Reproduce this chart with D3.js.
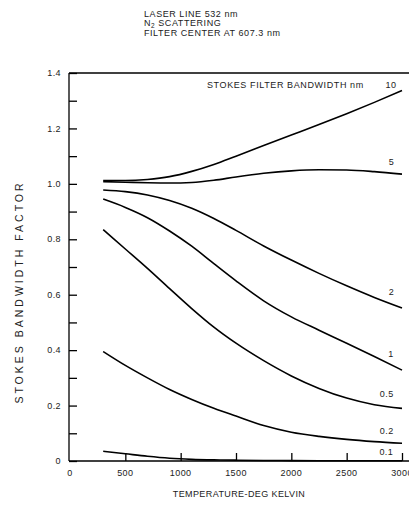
<!DOCTYPE html>
<html><head><meta charset="utf-8">
<script src="https://cdn.jsdelivr.net/npm/d3@7"></script>
<style>
body{margin:0;background:#fff;}
svg{display:block;font-family:"Liberation Sans",Arial,sans-serif;}
</style></head>
<body>
<svg id="c" width="409" height="507"></svg>
<script>
const temps = [300,500,700,900,1100,1300,1500,1750,2000,2250,2500,2750,3000];
const bandwidths = ["10","5","2","1","0.5","0.2","0.1"];
const s10  = [1.012,1.012,1.016,1.026,1.045,1.07,1.1,1.138,1.176,1.214,1.253,1.294,1.337];
const s5   = [1.008,1.006,1.004,1.003,1.005,1.013,1.025,1.038,1.047,1.051,1.05,1.044,1.035];
const s2   = [0.978,0.972,0.96,0.94,0.912,0.875,0.832,0.776,0.725,0.677,0.632,0.59,0.552];
const s1   = [0.945,0.915,0.878,0.83,0.775,0.712,0.65,0.578,0.52,0.472,0.425,0.377,0.328];
const s05  = [0.835,0.765,0.695,0.622,0.55,0.483,0.425,0.362,0.307,0.262,0.227,0.203,0.19];
const s02  = [0.395,0.345,0.3,0.258,0.222,0.19,0.162,0.128,0.104,0.089,0.078,0.07,0.064];
const s01  = [0.035,0.026,0.017,0.01,0.006,0.004,0.003,0.002,0.0015,0.001,0.001,0.001,0.001];
const seriesValues = [s10,s5,s2,s1,s05,s02,s01];
const labelT = [2900,2905,2905,2900,2862,2862,2858];
const labelV = [1.357,1.08,0.61,0.386,0.242,0.109,0.034];
const xTicks = [0,500,1000,1500,2000,2500,3000];
const yTickLabels = ["0","0.2","0.4","0.6","0.8","1.0","1.2","1.4"];
const yMinor = [0,0.1,0.2,0.3,0.4,0.5,0.6,0.7,0.8,0.9,1.0,1.1,1.2,1.3,1.4];
const titleLines = ["LASER LINE 532 nm","N|2| SCATTERING","FILTER CENTER AT 607.3 nm"];

const svg = d3.select("#c");
const x = d3.scaleLinear().domain([0,3000]).range([70,402]);
const y = d3.scaleLinear().domain([0,1.4]).range([461,73]);

// frame
svg.append("line").attr("x1",69).attr("x2",409).attr("y1",73).attr("y2",73).attr("stroke","#000").attr("stroke-width",1.3);
svg.append("line").attr("x1",69).attr("x2",409).attr("y1",461).attr("y2",461).attr("stroke","#000").attr("stroke-width",1.6);
svg.append("line").attr("x1",69).attr("x2",69).attr("y1",73).attr("y2",461).attr("stroke","#000").attr("stroke-width",1.3);

// y axis
const yAx = d3.axisRight(y).tickValues(yMinor).tickSize(8).tickFormat("");
const gy = svg.append("g").attr("transform","translate(69,0)").call(yAx);
gy.select(".domain").remove();
gy.selectAll(".tick line").attr("stroke","#000").attr("stroke-width",1.3);
svg.append("g").selectAll("text").data(yTickLabels).join("text")
  .attr("x",61).attr("y",d=>y(+d)).attr("dy","0.35em").attr("text-anchor","end")
  .attr("font-size",9).attr("letter-spacing",0.4).attr("fill","#222").text(d=>d);

// x axis
const xAx = d3.axisTop(x).tickValues(xTicks.slice(1)).tickSize(8).tickFormat("");
const gx = svg.append("g").attr("transform","translate(0,461)").call(xAx);
gx.select(".domain").remove();
gx.selectAll(".tick line").attr("stroke","#000").attr("stroke-width",1.3);
svg.append("g").selectAll("text").data(xTicks).join("text")
  .attr("x",d=>x(d)).attr("y",475.5).attr("text-anchor","middle")
  .attr("font-size",9).attr("letter-spacing",0.4).attr("fill","#222").text(d=>d);

// curves
const line = d3.line().x((d,i)=>x(temps[i])).y(d=>y(d)).curve(d3.curveMonotoneX);
svg.append("g").selectAll("path").data(seriesValues).join("path")
  .attr("d",d=>line(d)).attr("fill","none").attr("stroke","#000").attr("stroke-width",1.6);

// curve labels
svg.append("g").selectAll("text").data(bandwidths).join("text")
  .attr("x",(d,i)=>x(labelT[i])).attr("y",(d,i)=>y(labelV[i])).attr("dy","0.35em")
  .attr("text-anchor","middle").attr("font-size",9).attr("letter-spacing",0.4).attr("fill","#222").text(d=>d);

svg.append("text").attr("x",207).attr("y",88).attr("font-size",9).attr("letter-spacing",0.6)
  .attr("fill","#222").text("STOKES FILTER BANDWIDTH nm");

// title
titleLines.forEach((t,i)=>{
  const tx = svg.append("text").attr("x",144).attr("y",16.5+i*9.8).attr("font-size",9)
    .attr("letter-spacing",0.56).attr("fill","#222");
  const parts = t.split("|");
  if(parts.length>1){
    tx.append("tspan").text(parts[0]);
    tx.append("tspan").attr("font-size",6.5).attr("dy",2).text(parts[1]);
    tx.append("tspan").attr("dy",-2).text(parts[2]);
  } else tx.text(t);
});

// axis titles
svg.append("text").attr("x",x(1500)+3).attr("y",497).attr("text-anchor","middle")
  .attr("font-size",9).attr("letter-spacing",0.4).attr("fill","#222").text("TEMPERATURE-DEG KELVIN");
svg.append("text").attr("transform","translate(23,292) rotate(-90)").attr("text-anchor","middle")
  .attr("font-size",10.5).attr("letter-spacing",3).attr("fill","#222").text("STOKES BANDWIDTH FACTOR");
</script>
</body></html>
